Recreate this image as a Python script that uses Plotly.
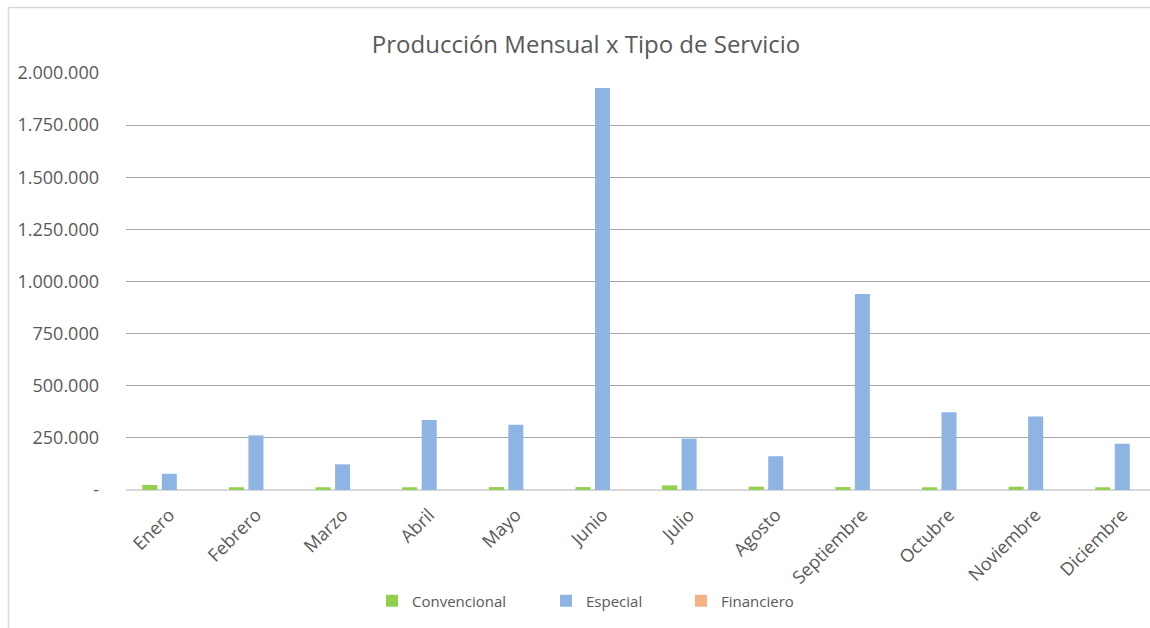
import plotly.graph_objects as go

months = ["Enero", "Febrero", "Marzo", "Abril", "Mayo", "Junio", "Julio",
          "Agosto", "Septiembre", "Octubre", "Noviembre", "Diciembre"]
convencional = [24000, 13000, 13000, 13000, 14000, 14000, 22000, 16000, 14000, 13000, 16000, 13000]
especial = [78000, 262000, 123000, 336000, 313000, 1928000, 246000, 162000, 940000, 373000, 353000, 222000]
financiero = [0, 0, 0, 0, 0, 0, 0, 0, 0, 0, 0, 0]

ytick_vals = [0, 250000, 500000, 750000, 1000000, 1250000, 1500000, 1750000, 2000000]
ytick_text = ["-", "250.000", "500.000", "750.000", "1.000.000", "1.250.000",
              "1.500.000", "1.750.000", "2.000.000"]

W, H = 1150, 628
L, R, T, B = 126, 1150, 73, 490
pw, ph = R - L, B - T

def px(x):
    return (x - L) / pw

def py(y):
    return (B - y) / ph

TXT = "#595959"
FONT = "Open Sans"
BORDER = "#D9D9D9"

fig = go.Figure()
fig.add_trace(go.Bar(x=months, y=convencional, name="Convencional",
                     marker=dict(color="#92D050", line=dict(width=0)),
                     legend="legend", showlegend=True))
fig.add_trace(go.Bar(x=months, y=especial, name="Especial",
                     marker=dict(color="#8EB4E3", line=dict(width=0)),
                     legend="legend2", showlegend=True))
fig.add_trace(go.Bar(x=months, y=financiero, name="Financiero",
                     marker=dict(color="#F4B183", line=dict(width=0)),
                     legend="legend3", showlegend=True))

leg_common = dict(orientation="h", yanchor="middle", xanchor="left",
                  font=dict(family=FONT, size=15, color=TXT),
                  bgcolor="rgba(0,0,0,0)", itemwidth=30, visible=True)

fig.update_layout(
    width=W, height=H,
    showlegend=True,
    margin=dict(l=L, r=W - R, t=T, b=H - B, pad=0),
    paper_bgcolor="white", plot_bgcolor="white",
    barmode="group", bargap=0.325, bargroupgap=0.23,
    title=dict(text="Producción Mensual x Tipo de Servicio",
               x=586 / W, xanchor="center", y=1 - 45 / H, yanchor="middle",
               font=dict(family=FONT, size=24, color=TXT)),
    font=dict(family=FONT, color=TXT),
    legend=dict(x=px(372), y=py(601), **leg_common),
    legend2=dict(x=px(546), y=py(601), **leg_common),
    legend3=dict(x=px(681), y=py(601), **leg_common),
    xaxis=dict(range=[-0.5, 11.32], tickangle=-45, showgrid=False,
               showline=False, ticks="", ticklabelstandoff=10,
               tickfont=dict(family=FONT, size=18, color=TXT)),
    yaxis=dict(range=[0, 2000000], tickvals=ytick_vals, ticktext=ytick_text,
               showgrid=True, gridcolor="#A6A6A6", gridwidth=1,
               zeroline=True, zerolinecolor=BORDER, zerolinewidth=2,
               showline=False, ticks="", ticklabelstandoff=26,
               tickfont=dict(family=FONT, size=18, color=TXT)),
    shapes=[
        dict(type="line", xref="paper", yref="paper",
             x0=px(8.5), x1=px(8.5), y0=py(640), y1=py(7.5),
             line=dict(color=BORDER, width=1.5), layer="below"),
        dict(type="line", xref="paper", yref="paper",
             x0=px(8.5), x1=px(1200), y0=py(7.5), y1=py(7.5),
             line=dict(color=BORDER, width=1.5), layer="below"),
    ],
)

fig.write_html("out.html", config={"displayModeBar": False},
               post_script="document.body.style.margin='0';document.body.style.overflow='hidden';")
